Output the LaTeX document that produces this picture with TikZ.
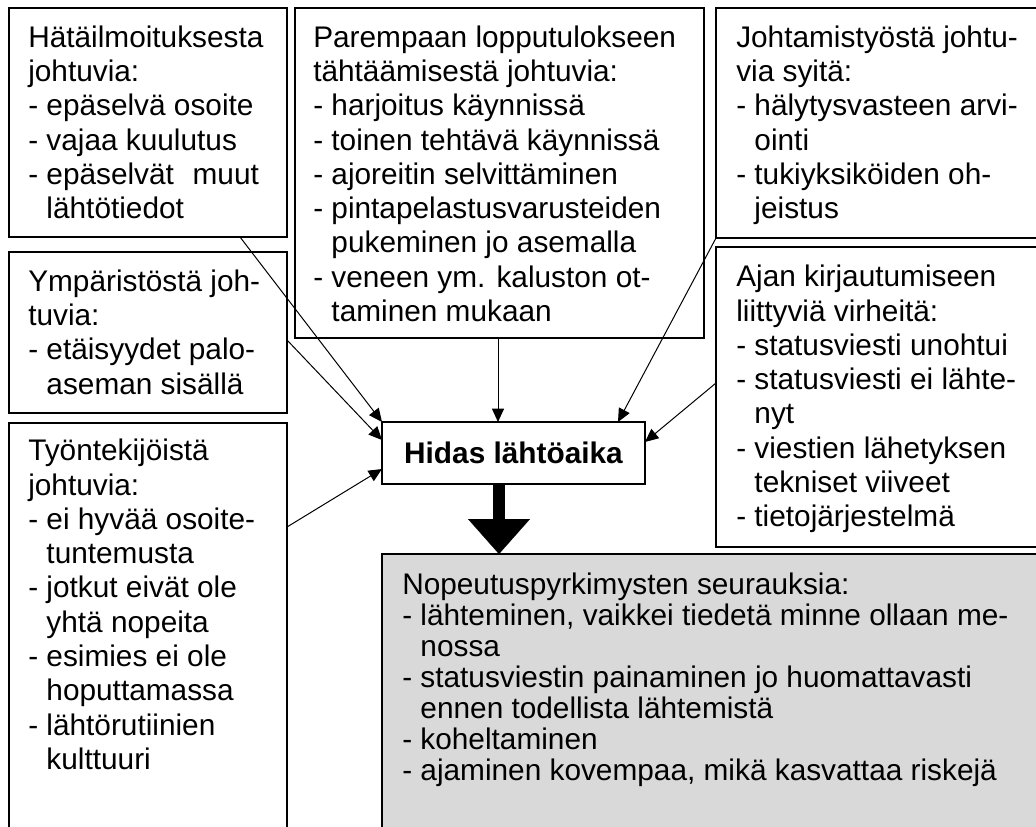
\documentclass[tikz,border=0pt]{standalone}
\usepackage{fontspec}
\setmainfont{Liberation Sans}
\usetikzlibrary{arrows.meta}
\definecolor{greyfill}{RGB}{217,217,217}
\tikzset{
  boxframe/.style={draw, line width=1.2pt, rectangle, inner sep=0pt, outer sep=0pt, anchor=north west},
  boxtext/.style={anchor=north west, inner sep=0pt, align=left, font=\fontsize{22.35pt}{25.7pt}\selectfont},
  greytext/.style={anchor=north west, inner sep=0pt, align=left, font=\fontsize{22.35pt}{23.2pt}\selectfont},
  thinarrow/.style={line width=0.75pt, -{Triangle[length=10pt,width=9pt]}},
  fatarrow/.style={line width=9pt, -{Triangle[length=26.25pt,width=46.5pt,line width=0.1pt]}},
}
\newcommand{\ind}{\hspace*{0.611em}}
\begin{document}
\begin{tikzpicture}[x=0.75pt,y=-0.75pt]
\clip (0,0) rectangle (1036,826);
% boxes
\node[boxframe, minimum width=208.5pt, minimum height=171.75pt] (b1) at (9,8) {};
\node[boxframe, minimum width=208.5pt, minimum height=120.75pt] (b2) at (9,252) {};
\node[boxframe, minimum width=208.5pt, minimum height=312.75pt] (b6) at (9,423) {};
\node[boxframe, minimum width=306.75pt, minimum height=247.5pt] (b3) at (295,8) {};
\node[boxframe, minimum width=246.75pt, minimum height=172.5pt] (b4) at (716,8) {};
\node[boxframe, minimum width=246.75pt, minimum height=225pt] (b5) at (716,247) {};
\node[boxframe, fill=greyfill, minimum width=497.25pt, minimum height=214.5pt] (grey) at (382,554) {};
\node[boxframe, fill=white, minimum width=197.25pt, minimum height=46.5pt,
      font=\fontsize{22.35pt}{25.9pt}\selectfont\bfseries, anchor=center] (hidas) at (513.5,453) {Hidas lähtöaika};
% texts
\node[boxtext] (t1) at ([xshift=14.25pt,yshift=-13pt]b1.north west)
 {Hätäilmoituksesta\\johtuvia:\\- epäselvä osoite\\- vajaa kuulutus\\- epäselvät\hspace{14pt}muut\\\ind lähtötiedot};
\node[boxtext] (t2) at ([xshift=14.25pt,yshift=-13pt]b2.north west)
 {Ympäristöstä joh-\\tuvia:\\- etäisyydet palo-\\\ind aseman sisällä};
\node[boxtext] (t6) at ([xshift=14.25pt,yshift=-12pt]b6.north west)
 {Työntekijöistä\\johtuvia:\\- ei hyvää osoite-\\\ind tuntemusta\\- jotkut eivät ole\\\ind yhtä nopeita\\- esimies ei ole\\\ind hoputtamassa\\- lähtörutiinien\\\ind kulttuuri};
\node[boxtext] (t3) at ([xshift=13.5pt,yshift=-13pt]b3.north west)
 {Parempaan lopputulokseen\\tähtäämisestä johtuvia:\\- harjoitus käynnissä\\- toinen tehtävä käynnissä\\- ajoreitin selvittäminen\\- pintapelastusvarusteiden\\\ind pukeminen jo asemalla\\- veneen ym. kaluston ot-\\\ind taminen mukaan};
\node[boxtext] (t4) at ([xshift=15pt,yshift=-13pt]b4.north west)
 {Johtamistyöstä johtu-\\via syitä:\\- hälytysvasteen arvi-\\\ind ointi\\- tukiyksiköiden oh-\\\ind jeistus};
\node[boxtext] (t5) at ([xshift=15pt,yshift=-13.5pt]b5.north west)
 {Ajan kirjautumiseen\\liittyviä virheitä:\\- statusviesti unohtui\\- statusviesti ei lähte-\\\ind nyt\\- viestien lähetyksen\\\ind tekniset viiveet\\- tietojärjestelmä};
\node[greytext] (tg) at ([xshift=15pt,yshift=-14pt]grey.north west)
 {Nopeutuspyrkimysten seurauksia:\\- lähteminen, vaikkei tiedetä minne ollaan me-\\\ind nossa\\- statusviestin painaminen jo huomattavasti\\\ind ennen todellista lähtemistä\\- koheltaminen\\- ajaminen kovempaa, mikä kasvattaa riskejä};
% connectors
\draw[thinarrow] ([xshift=173.25pt]b1.south west) -- (hidas.north west);
\draw[thinarrow] ([yshift=-66pt]b2.north east) -- ([yshift=-13.5pt]hidas.north west);
\draw[thinarrow] ([yshift=-78pt]b6.north east) -- ([yshift=-35.25pt]hidas.north west);
\draw[thinarrow] ([xshift=152.25pt]b3.south west) -- ([xshift=87pt]hidas.north west);
\draw[thinarrow] (b4.south west) -- ([xshift=177pt]hidas.north west);
\draw[thinarrow] ([yshift=-102pt]b5.north west) -- ([yshift=-15pt]hidas.north east);
\draw[fatarrow] ([xshift=87.75pt]hidas.south west) -- ([xshift=87.75pt]grey.north west);
\end{tikzpicture}
\end{document}
